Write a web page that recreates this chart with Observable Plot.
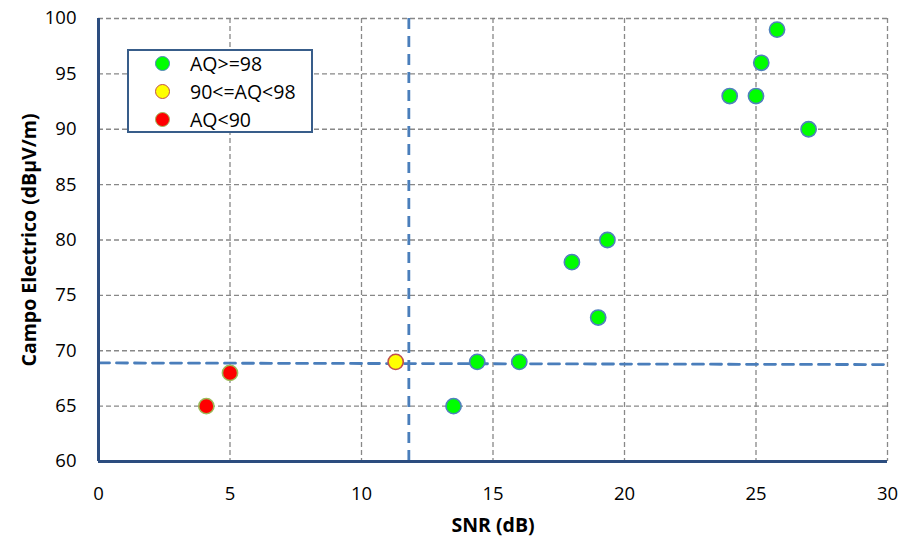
<!DOCTYPE html>
<html><head><meta charset="utf-8">
<script src="https://cdn.jsdelivr.net/npm/d3@7"></script>
<script src="https://cdn.jsdelivr.net/npm/@observablehq/plot@0.6"></script>
<style>
body{margin:0;background:#fff;font-family:"Open Sans",sans-serif;}
#wrap{position:relative;width:904px;height:539px;}
#legend{position:absolute;left:127px;top:49px;width:186px;height:84px;border:2px solid #385D8A;background:#fff;box-sizing:border-box;}
.item{position:absolute;left:0;height:26px;display:flex;align-items:center;font-size:19.5px;color:#000;white-space:nowrap;}
.dot{width:15px;height:15px;border-radius:50%;box-sizing:border-box;border:1.8px solid;margin-left:26px;margin-right:20px;}
</style></head>
<body><div id="wrap"></div>
<script>
const categories = ["AQ>=98", "90<=AQ<98", "AQ<90"];
const fills = ["#00FF00", "#FFFF00", "#FF0000"];
const strokes = ["#4F81BD", "#C0504D", "#9BBB59"];
const snrGreen = [25.8, 25.2, 24.0, 25.0, 27.0, 19.35, 18.0, 19.0, 14.4, 16.0, 13.5];
const fieldGreen = [99, 96, 93, 93, 90, 80, 78, 73, 69, 69, 65];
const snrYellow = [11.3];
const fieldYellow = [69];
const snrRed = [5.0, 4.1];
const fieldRed = [68, 65];
const thresholdSNR = 11.8;
const thresholdFieldLine = [{x: 0, y: 68.9}, {x: 30, y: 68.75}];
const xTicks = [0, 5, 10, 15, 20, 25, 30];
const yTicks = [60, 65, 70, 75, 80, 85, 90, 95, 100];

const pts = [];
snrGreen.forEach((x, i) => pts.push({x, y: fieldGreen[i], c: 0}));
snrYellow.forEach((x, i) => pts.push({x, y: fieldYellow[i], c: 1}));
snrRed.forEach((x, i) => pts.push({x, y: fieldRed[i], c: 2}));

const chart = Plot.plot({
  width: 904, height: 539,
  marginLeft: 98, marginRight: 17, marginTop: 18, marginBottom: 78,
  style: {fontFamily: "'Open Sans', sans-serif", fontSize: "18px", color: "#000", background: "#fff"},
  x: {domain: [0, 30], ticks: xTicks},
  y: {domain: [60, 100], ticks: yTicks},
  marks: [
    Plot.ruleX(xTicks.slice(1), {stroke: "#888", strokeWidth: 1.3, strokeDasharray: "5,3"}),
    Plot.ruleY(yTicks.slice(1), {stroke: "#888", strokeWidth: 1.3, strokeDasharray: "5,3"}),
    Plot.ruleX([thresholdSNR], {stroke: "#4A7EBB", strokeWidth: 2.8, strokeDasharray: "11,7"}),
    Plot.line(thresholdFieldLine, {x: "x", y: "y", stroke: "#4A7EBB", strokeWidth: 2.8, strokeDasharray: "11,7"}),
    Plot.ruleX([0], {stroke: "#2C4D7F", strokeWidth: 3}),
    Plot.ruleY([60], {stroke: "#2C4D7F", strokeWidth: 3}),
    Plot.dot(pts, {x: "x", y: "y", r: 7.6, fill: d => fills[d.c], stroke: d => strokes[d.c], strokeWidth: 1.6}),
    Plot.axisX({ticks: xTicks, tickSize: 0, tickPadding: 25, fontSize: 18.5, label: null}),
    Plot.axisY({ticks: yTicks, tickSize: 0, tickPadding: 22, fontSize: 18.5, label: null}),
    Plot.axisX({ticks: [], tickSize: 0, label: "SNR (dB)", labelAnchor: "center", labelArrow: "none", labelOffset: 70, fontSize: 19.5, fontWeight: "bold"}),
    Plot.axisY({ticks: [], tickSize: 0, label: "Campo Electrico (dBµV/m)", labelAnchor: "center", labelArrow: "none", labelOffset: 76, fontSize: 19.5, fontWeight: "bold"})
  ]
});
document.getElementById("wrap").appendChild(chart);

const leg = document.createElement("div");
leg.id = "legend";
categories.forEach((c, i) => {
  const it = document.createElement("div");
  it.className = "item";
  it.style.top = (-1 + i * 28) + "px";
  it.innerHTML = `<span class="dot" style="background:${fills[i]};border-color:${strokes[i]}"></span><span>${c}</span>`;
  leg.appendChild(it);
});
document.getElementById("wrap").appendChild(leg);
</script>
</body></html>
